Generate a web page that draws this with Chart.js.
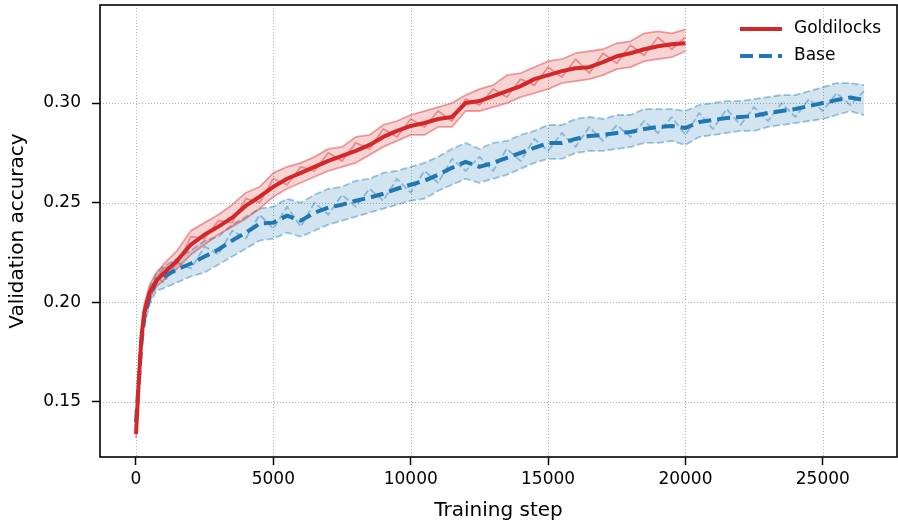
<!DOCTYPE html>
<html>
<head>
<meta charset="utf-8">
<script src="https://cdn.jsdelivr.net/npm/chart.js@4/dist/chart.umd.min.js"></script>
<style>
    html, body { margin: 0; padding: 0; background: #fff; }
    #wrap { width: 898px; height: 525px; position: relative; }
</style>
</head>
<body>
<div id="wrap"><canvas id="chart"></canvas></div>
<script>
(function () {
    "use strict";

    // Training steps
    const goldSteps = [0, 100, 200, 300, 500, 750,
        1000, 1500, 2000, 2500, 3000, 3500, 4000, 4500, 5000, 5500,
        6000, 6500, 7000, 7500, 8000, 8500, 9000, 9500, 10000, 10500,
        11000, 11500, 12000, 12500, 13000, 13500, 14000, 14500, 15000, 15500,
        16000, 16500, 17000, 17500, 18000, 18500, 19000, 19500, 20000];
    const baseSteps = [0, 100, 200, 300, 500, 750,
        1000, 1500, 2000, 2500, 3000, 3500, 4000, 4500, 5000, 5500,
        6000, 6500, 7000, 7500, 8000, 8500, 9000, 9500, 10000, 10500,
        11000, 11500, 12000, 12500, 13000, 13500, 14000, 14500, 15000, 15500,
        16000, 16500, 17000, 17500, 18000, 18500, 19000, 19500, 20000, 20500,
        21000, 21500, 22000, 22500, 23000, 23500, 24000, 24500, 25000, 25500,
        26000, 26500];

    // Goldilocks: mean, spread across seeds, one seed run
    const goldMean = [0.134, 0.160, 0.183, 0.195, 0.205, 0.211,
        0.2145, 0.221, 0.229, 0.234, 0.238, 0.2425, 0.2485, 0.253, 0.258, 0.262,
        0.265, 0.268, 0.271, 0.2735, 0.276, 0.279, 0.283, 0.286, 0.2885, 0.290,
        0.292, 0.293, 0.300, 0.301, 0.3035, 0.306, 0.3085, 0.312, 0.314, 0.316,
        0.3175, 0.318, 0.3205, 0.3235, 0.325, 0.327, 0.3285, 0.3295, 0.330];
    const goldHigh = [0.136, 0.163, 0.186, 0.199, 0.209, 0.215,
        0.219, 0.226, 0.236, 0.240, 0.244, 0.249, 0.255, 0.258, 0.265, 0.268,
        0.270, 0.273, 0.277, 0.278, 0.283, 0.284, 0.289, 0.291, 0.294, 0.296,
        0.298, 0.300, 0.304, 0.307, 0.309, 0.314, 0.315, 0.318, 0.321, 0.322,
        0.325, 0.326, 0.327, 0.330, 0.331, 0.335, 0.336, 0.335, 0.337];
    const goldLow = [0.132, 0.157, 0.180, 0.192, 0.202, 0.208,
        0.211, 0.217, 0.224, 0.229, 0.234, 0.238, 0.242, 0.247, 0.253, 0.257,
        0.260, 0.263, 0.266, 0.268, 0.270, 0.274, 0.278, 0.281, 0.284, 0.284,
        0.288, 0.288, 0.296, 0.296, 0.298, 0.300, 0.303, 0.305, 0.307, 0.310,
        0.311, 0.312, 0.314, 0.317, 0.318, 0.321, 0.322, 0.323, 0.326];
    const goldSeed = [0.134, 0.161, 0.184, 0.197, 0.207, 0.212,
        0.217, 0.219, 0.233, 0.232, 0.241, 0.240, 0.252, 0.250, 0.262, 0.259,
        0.268, 0.266, 0.275, 0.271, 0.280, 0.277, 0.287, 0.283, 0.292, 0.288,
        0.296, 0.291, 0.302, 0.299, 0.307, 0.303, 0.312, 0.309, 0.318, 0.313,
        0.322, 0.315, 0.325, 0.320, 0.329, 0.324, 0.333, 0.327, 0.333];

    // Base: mean, spread across seeds, one seed run
    const baseMean = [0.140, 0.160, 0.180, 0.192, 0.203, 0.211,
        0.213, 0.2165, 0.2195, 0.223, 0.2265, 0.231, 0.235, 0.2395, 0.240, 0.2435,
        0.241, 0.245, 0.2475, 0.249, 0.251, 0.2525, 0.2545, 0.257, 0.259, 0.261,
        0.264, 0.2675, 0.2705, 0.268, 0.270, 0.2725, 0.275, 0.2775, 0.280, 0.280,
        0.282, 0.2835, 0.284, 0.285, 0.2855, 0.287, 0.288, 0.2885, 0.2875, 0.2905,
        0.2915, 0.2925, 0.293, 0.2935, 0.295, 0.296, 0.297, 0.2985, 0.300, 0.3015,
        0.3028, 0.3015];
    const baseHigh = [0.142, 0.163, 0.183, 0.196, 0.207, 0.215,
        0.218, 0.222, 0.226, 0.231, 0.233, 0.239, 0.243, 0.247, 0.248, 0.252,
        0.250, 0.254, 0.257, 0.258, 0.261, 0.262, 0.265, 0.266, 0.268, 0.270,
        0.273, 0.277, 0.280, 0.277, 0.280, 0.281, 0.284, 0.286, 0.289, 0.289,
        0.292, 0.293, 0.292, 0.294, 0.294, 0.297, 0.297, 0.297, 0.296, 0.299,
        0.300, 0.301, 0.301, 0.302, 0.303, 0.304, 0.304, 0.306, 0.308, 0.310,
        0.310, 0.309];
    const baseLow = [0.138, 0.157, 0.177, 0.188, 0.199, 0.206,
        0.207, 0.210, 0.213, 0.215, 0.219, 0.223, 0.227, 0.231, 0.232, 0.235,
        0.233, 0.236, 0.239, 0.241, 0.243, 0.245, 0.247, 0.249, 0.251, 0.252,
        0.256, 0.259, 0.262, 0.260, 0.262, 0.264, 0.267, 0.270, 0.272, 0.272,
        0.275, 0.276, 0.276, 0.277, 0.278, 0.280, 0.280, 0.281, 0.279, 0.283,
        0.284, 0.285, 0.286, 0.286, 0.288, 0.289, 0.290, 0.291, 0.292, 0.294,
        0.296, 0.294];
    const baseSeed = [0.140, 0.161, 0.181, 0.193, 0.201, 0.213,
        0.210, 0.220, 0.217, 0.228, 0.224, 0.236, 0.232, 0.244, 0.237, 0.248,
        0.238, 0.250, 0.244, 0.254, 0.248, 0.257, 0.251, 0.262, 0.255, 0.266,
        0.260, 0.272, 0.266, 0.273, 0.266, 0.277, 0.271, 0.282, 0.276, 0.285,
        0.278, 0.288, 0.281, 0.289, 0.283, 0.291, 0.285, 0.293, 0.284, 0.295,
        0.287, 0.297, 0.289, 0.298, 0.291, 0.300, 0.293, 0.302, 0.296, 0.305,
        0.299, 0.306];

    const xTicks = [0, 5000, 10000, 15000, 20000, 25000];
    const yTicks = [0.15, 0.20, 0.25, 0.30];

    const RED = "#d62728";
    const BLUE = "#1f77b4";
    const FONT = "'DejaVu Sans', sans-serif";
    const RED_SEED = "rgba(214,39,40,0.42)";
    const BLUE_SEED = "rgba(31,119,180,0.42)";

    const pts = (xs, ys) => xs.map((x, i) => ({ x: x, y: ys[i] }));

    // Dotted grid, axes box and legend
    const decorPlugin = {
        id: "decor",
        beforeDatasetsDraw(chart) {
            const { ctx, chartArea: a, scales } = chart;
            ctx.save();
            ctx.strokeStyle = "#b0b0b0";
            ctx.lineWidth = 1;
            ctx.setLineDash([1, 2]);
            xTicks.forEach((v) => {
                const px = Math.round(scales.x.getPixelForValue(v)) + 0.5;
                ctx.beginPath();
                ctx.moveTo(px, a.top);
                ctx.lineTo(px, a.bottom);
                ctx.stroke();
            });
            yTicks.forEach((v) => {
                const py = Math.round(scales.y.getPixelForValue(v)) + 0.5;
                ctx.beginPath();
                ctx.moveTo(a.left, py);
                ctx.lineTo(a.right, py);
                ctx.stroke();
            });
            ctx.restore();
        },
        afterDatasetsDraw(chart) {
            const { ctx, chartArea: a } = chart;
            ctx.save();
            ctx.strokeStyle = "#000";
            ctx.lineWidth = 1.6;
            ctx.strokeRect(a.left, a.top, a.right - a.left, a.bottom - a.top);

            // legend
            ctx.lineWidth = 4;
            ctx.strokeStyle = RED;
            ctx.beginPath();
            ctx.moveTo(740, 29);
            ctx.lineTo(782, 29);
            ctx.stroke();
            ctx.strokeStyle = BLUE;
            ctx.setLineDash([13, 6]);
            ctx.beginPath();
            ctx.moveTo(740, 56);
            ctx.lineTo(782, 56);
            ctx.stroke();
            ctx.setLineDash([]);
            ctx.fillStyle = "#000";
            ctx.font = "17px " + FONT;
            ctx.textBaseline = "middle";
            ctx.fillText("Goldilocks", 794, 29);
            ctx.fillText("Base", 794, 56);
            ctx.restore();
        },
    };

    const ctx = document.getElementById("chart").getContext("2d");

    new Chart(ctx, {
        type: "line",
        data: {
            datasets: [
                {
                    label: "Goldilocks",
                    data: pts(goldSteps, goldMean),
                    borderColor: RED,
                    borderWidth: 4,
                    fill: false,
                },
                {
                    label: "Base",
                    data: pts(baseSteps, baseMean),
                    borderColor: BLUE,
                    borderWidth: 4,
                    borderDash: [13, 6],
                    fill: false,
                },
                {
                    label: "Goldilocks seed",
                    data: pts(goldSteps, goldSeed),
                    borderColor: RED_SEED,
                    borderWidth: 1.8,
                    fill: false,
                },
                {
                    label: "Goldilocks high",
                    data: pts(goldSteps, goldHigh),
                    borderColor: RED_SEED,
                    borderWidth: 1.8,
                    backgroundColor: "rgba(214,39,40,0.2)",
                    fill: "+1",
                },
                {
                    label: "Goldilocks low",
                    data: pts(goldSteps, goldLow),
                    borderColor: RED_SEED,
                    borderWidth: 1.8,
                    fill: false,
                },
                {
                    label: "Base seed",
                    data: pts(baseSteps, baseSeed),
                    borderColor: BLUE_SEED,
                    borderWidth: 1.8,
                    borderDash: [7, 3],
                    fill: false,
                },
                {
                    label: "Base high",
                    data: pts(baseSteps, baseHigh),
                    borderColor: BLUE_SEED,
                    borderWidth: 1.8,
                    borderDash: [7, 3],
                    backgroundColor: "rgba(31,119,180,0.2)",
                    fill: "+1",
                },
                {
                    label: "Base low",
                    data: pts(baseSteps, baseLow),
                    borderColor: BLUE_SEED,
                    borderWidth: 1.8,
                    borderDash: [7, 3],
                    fill: false,
                },
            ],
        },
        options: {
            responsive: true,
            maintainAspectRatio: false,
            animation: false,
            layout: {
                padding: { top: 5, right: 1, left: 0, bottom: 0 },
            },
            elements: {
                point: { radius: 0 },
                line: { tension: 0, borderCapStyle: "butt", borderJoinStyle: "round" },
            },
            plugins: {
                legend: { display: false },
                tooltip: { enabled: false },
            },
            scales: {
                x: {
                    type: "linear",
                    min: -1310,
                    max: 27700,
                    afterFit: (scale) => {
                        scale.height = 68;
                        scale.paddingLeft = 0;
                        scale.paddingRight = 0;
                    },
                    afterBuildTicks: (scale) => {
                        scale.ticks = xTicks.map((v) => ({ value: v }));
                    },
                    ticks: {
                        color: "#000",
                        font: { family: FONT, size: 17 },
                        padding: 4,
                        maxRotation: 0,
                        callback: (v) => String(v),
                    },
                    grid: {
                        drawOnChartArea: false,
                        drawTicks: true,
                        tickLength: 8,
                        tickColor: "#000",
                        tickWidth: 1.5,
                    },
                    border: { display: false },
                    title: {
                        display: true,
                        text: "Training step",
                        color: "#000",
                        font: { family: FONT, size: 20 },
                        padding: { top: 0, bottom: 2 },
                    },
                },
                y: {
                    min: 0.1224,
                    max: 0.3492,
                    afterFit: (scale) => {
                        scale.width = 100;
                        scale.paddingTop = 0;
                        scale.paddingBottom = 0;
                    },
                    afterBuildTicks: (scale) => {
                        scale.ticks = yTicks.map((v) => ({ value: v }));
                    },
                    ticks: {
                        color: "#000",
                        font: { family: FONT, size: 17 },
                        padding: 11,
                        callback: (v) => v.toFixed(2),
                    },
                    grid: {
                        drawOnChartArea: false,
                        drawTicks: true,
                        tickLength: 8,
                        tickColor: "#000",
                        tickWidth: 1.5,
                    },
                    border: { display: false },
                    title: {
                        display: true,
                        text: "Validation accuracy",
                        color: "#000",
                        font: { family: FONT, size: 20 },
                        padding: { top: 6, bottom: 0 },
                    },
                },
            },
        },
        plugins: [decorPlugin],
    });
})();
</script>
</body>
</html>
